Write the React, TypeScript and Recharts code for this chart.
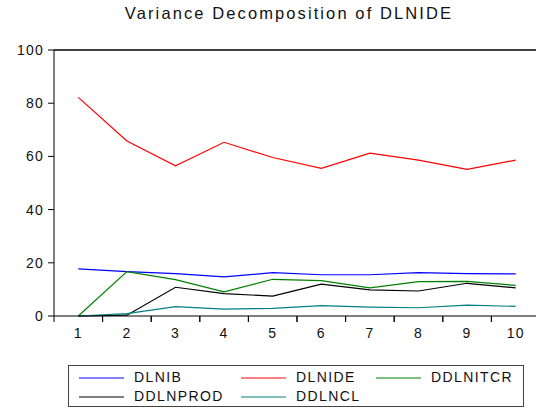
import { LineChart, Line, XAxis, YAxis, ReferenceLine } from "recharts"

const horizons = [1, 2, 3, 4, 5, 6, 7, 8, 9, 10]
const dlnib = [17.7, 16.7, 15.9, 14.7, 16.3, 15.5, 15.5, 16.3, 15.9, 15.8]
const dlnide = [82.2, 65.8, 56.5, 65.3, 59.6, 55.5, 61.2, 58.6, 55.1, 58.6]
const ddlnitcr = [0, 16.7, 13.7, 9.1, 13.8, 13.3, 10.6, 12.9, 13.0, 11.5]
const ddlnprod = [0, 0.3, 10.8, 8.4, 7.5, 12.0, 9.8, 9.4, 12.3, 10.6]
const ddlncl = [0, 0.9, 3.5, 2.6, 2.9, 3.9, 3.3, 3.1, 4.1, 3.6]

const yTicks = [0, 20, 40, 60, 80, 100]

const series = [
  { key: "DLNIB", values: dlnib, color: "#0000ff" },
  { key: "DLNIDE", values: dlnide, color: "#ff0000" },
  { key: "DDLNITCR", values: ddlnitcr, color: "#008000" },
  { key: "DDLNPROD", values: ddlnprod, color: "#000000" },
  { key: "DDLNCL", values: ddlncl, color: "#008080" },
]

const data = horizons.map((h, i) => {
  const row: Record<string, number> = { h }
  series.forEach((s) => (row[s.key] = s.values[i]))
  return row
})

const font = "Arial, 'Liberation Sans', sans-serif"

const W = 540
const M = { top: 50, right: 0, left: 10, bottom: 65 }
const Y_W = 44
// half of one category slot, EViews puts the ticks between the labels
const half = (W - M.left - M.right - Y_W) / horizons.length / 2

function XTick(props: any) {
  const { x, y, payload } = props
  return (
    <g>
      <line x1={x - half} x2={x - half} y1={y - 11} y2={y - 5} stroke="#000" />
      <line x1={x + half} x2={x + half} y1={y - 11} y2={y - 5} stroke="#000" />
      <text x={x} y={y} dy={10.5} textAnchor="middle" fill="#111" fontSize={14} letterSpacing={1.2} fontFamily={font}>
        {payload.value}
      </text>
    </g>
  )
}

export default function App() {
  return (
    <div style={{ position: "absolute", left: 0, top: 0, width: 536, height: 411, overflow: "hidden", background: "#fff", fontFamily: font }}>
      <div style={{ position: "absolute", top: 4, left: 0, width: 578, textAlign: "center", fontSize: 16.5, letterSpacing: 2.1, color: "#111" }}>
        Variance Decomposition of DLNIDE
      </div>
      <LineChart width={W} height={411} data={data} margin={M}>
        <XAxis
          dataKey="h"
          type="number"
          domain={[0.5, 10.5]}
          ticks={horizons}
          stroke="#000"
          tickLine={false}
          tickSize={6}
          tickMargin={5}
          height={30}
          tick={<XTick />}
          interval={0}
        />
        <YAxis
          domain={[0, 100]}
          ticks={yTicks}
          width={Y_W}
          tickSize={6}
          tickMargin={4}
          stroke="#000"
          tick={{ fill: "#111", fontSize: 14, letterSpacing: 1.2, fontFamily: font }}
          interval={0}
        />
        <ReferenceLine y={100} stroke="#000" strokeWidth={1.5} />
        {series.map((s) => (
          <Line
            key={s.key}
            dataKey={s.key}
            stroke={s.color}
            strokeWidth={1.2}
            dot={false}
            type="linear"
            isAnimationActive={false}
          />
        ))}
      </LineChart>
      <div
        style={{
          position: "absolute",
          left: 68,
          top: 365,
          width: 456,
          height: 42,
          border: "1px solid #444",
          boxSizing: "border-box",
          display: "grid",
          gridTemplateColumns: "162px 135px auto",
          paddingLeft: 10,
          paddingTop: 2,
          fontSize: 14,
          letterSpacing: 1.4,
          color: "#111",
          lineHeight: "17px",
        }}
      >
        {series.map((s) => (
          <div key={s.key} style={{ display: "flex", alignItems: "center" }}>
            <svg width={45} height={6} style={{ marginRight: 10, display: "block" }}>
              <line x1={0} x2={45} y1={3} y2={3} stroke={s.color} strokeWidth={1.2} />
            </svg>
            {s.key}
          </div>
        ))}
      </div>
    </div>
  )
}
